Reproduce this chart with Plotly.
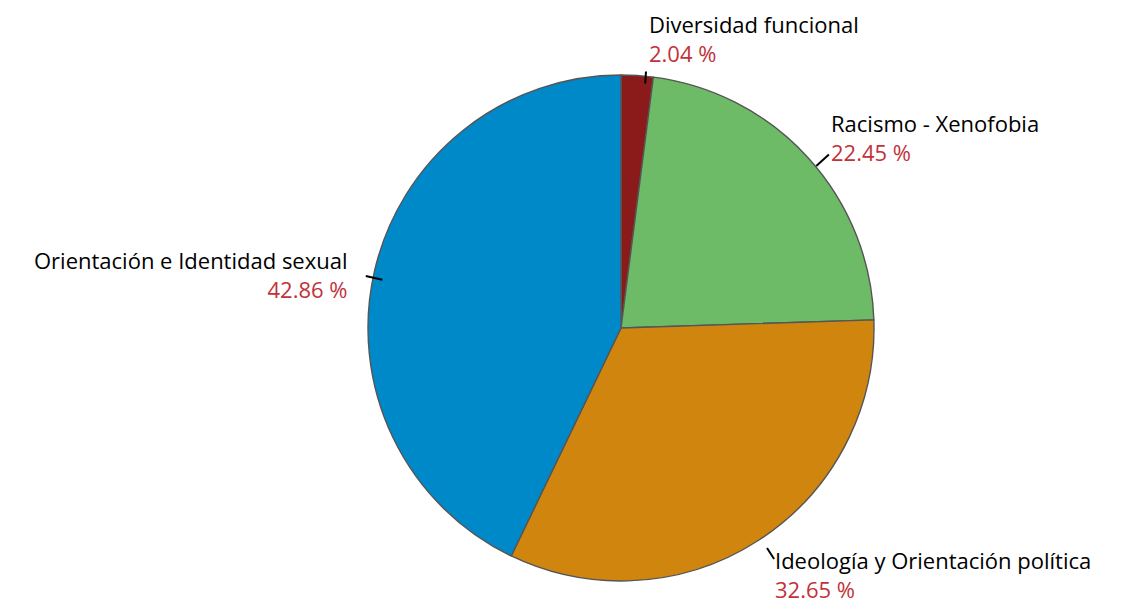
import math
import plotly.graph_objects as go

categories = ["Diversidad funcional", "Racismo - Xenofobia",
              "Ideología y Orientación política", "Orientación e Identidad sexual"]
values = [1, 11, 16, 21]
colors = ["#8B1A1A", "#6DBB67", "#D0860E", "#0089C9"]

W, H = 1123, 602
CX, CY, R = 621, 328, 253
SHIFT = 8  # compensation for plotly's internal pie offset
FONT = "Open Sans"

fig = go.Figure(go.Pie(
    labels=categories, values=values, sort=False, direction="clockwise",
    rotation=0, textinfo="none", hoverinfo="label+percent",
    marker=dict(colors=colors, line=dict(color="#555555", width=1.4)),
    domain=dict(x=[(CX - R - SHIFT) / W, (CX + R - SHIFT) / W],
                y=[1 - (CY + R - SHIFT) / H, 1 - (CY - R - SHIFT) / H]),
    showlegend=False,
))

total = sum(values)
cum = 0
annotations, shapes = [], []
for name, v in zip(categories, values):
    frac_mid = (cum + v / 2) / total
    cum += v
    ang = 2 * math.pi * frac_mid
    dx, dy = math.sin(ang), -math.cos(ang)
    if dy < -0.9:
        L = 12
    elif dy > 0.5:
        L = 13
    else:
        L = 17
    x0, y0 = CX + R * dx, CY + R * dy
    x1, y1 = CX + (R + L) * dx, CY + (R + L) * dy
    shapes.append(dict(type="line", xref="paper", yref="paper",
                       x0=x0 / W, y0=1 - y0 / H, x1=x1 / W, y1=1 - y1 / H,
                       line=dict(color="black", width=2)))
    pct = 100 * v / total
    right = dx >= 0
    if dy < -0.9:          # top
        ax, ay, ya = x1 + 1, y1 - 2, "bottom"
    elif dy > 0.5:         # bottom
        ax, ay, ya = x1 - 1, y1 - 16, "top"
    elif right:
        ax, ay, ya = x1 + 0, y1 - 17, "middle"
    else:
        ax, ay, ya = x1 - 16, y1 - 1, "middle"
    annotations.append(dict(
        x=ax / W, y=1 - ay / H, xref="paper", yref="paper",
        xanchor="left" if right else "right", yanchor=ya,
        align="left" if right else "right", showarrow=False,
        text=f"{name}<br><span style='color:#C1323A'>{pct:.2f} %</span>",
        font=dict(family=FONT, size=22, color="black"),
    ))

fig.update_layout(
    width=W, height=H, margin=dict(l=0, r=0, t=0, b=0),
    paper_bgcolor="white", plot_bgcolor="white",
    annotations=annotations, shapes=shapes,
    font=dict(family=FONT),
)
fig.write_html("out.html")
